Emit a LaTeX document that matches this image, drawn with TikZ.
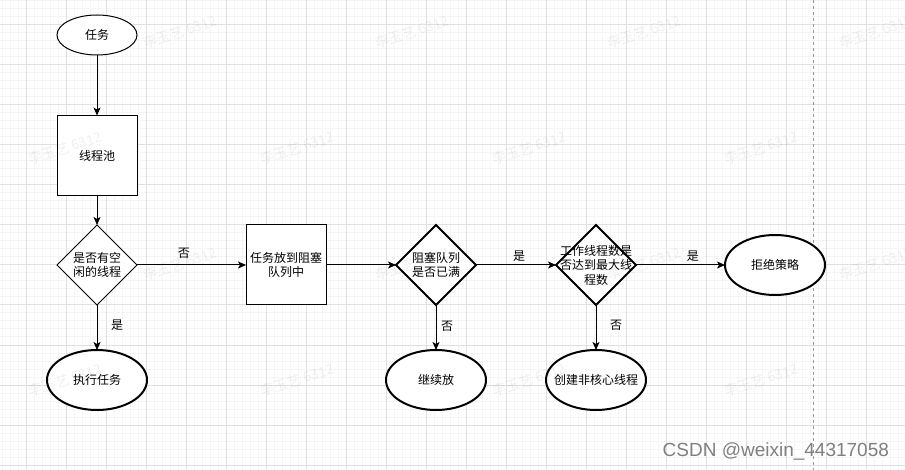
\documentclass[tikz,border=0pt]{standalone}
\usepackage{fontspec}
\newfontfamily\cjk{Noto Sans CJK SC}
\newfontfamily\csdnfont{Liberation Sans}
\usetikzlibrary{shapes.geometric,arrows.meta}
\begin{document}
\begin{tikzpicture}[x=1pt,y=-1pt,
  every node/.style={inner sep=0pt, outer sep=0pt},
  cjktext/.style={font=\cjk\fontsize{12}{14.5}\selectfont, align=center},
  thinline/.style={draw=black, line width=1pt, fill=white},
  thickline/.style={draw=black, line width=2pt, fill=white},
  boxshape/.style={rectangle, minimum width=80pt, minimum height=80pt},
  ovalsmall/.style={ellipse, minimum width=80pt, minimum height=40pt},
  ovalbig/.style={ellipse, minimum width=100pt, minimum height=60pt},
  diashape/.style={diamond, minimum width=80pt, minimum height=80pt},
  flow/.style={draw=black, line width=1pt, -{Stealth[length=8pt,width=7pt,inset=2pt]}},
  lbl/.style={cjktext},
  majorgrid/.style={draw=black!12, line width=1pt},
  minorgrid/.style={draw=black!4, line width=1pt},
  wm/.style={font=\cjk\fontsize{14}{14}\selectfont, text=black, text opacity=0.06, rotate=18}
]
\useasboundingbox (0,0) rectangle (905,470);
\fill[white] (0,0) rectangle (905,470);
% grid
\foreach \k in {0,...,112} \draw[minorgrid] ({2.7+8*\k},0) -- ({2.7+8*\k},470);
\foreach \k in {0,...,58} \draw[minorgrid] (0,{1+8*\k}) -- (905,{1+8*\k});
\foreach \k in {0,...,21} \draw[majorgrid] ({26.7+40*\k},0) -- ({26.7+40*\k},470);
\foreach \k in {0,...,11} \draw[majorgrid] (0,{25+40*\k}) -- (905,{25+40*\k});
% page break line
\draw[black!40, line width=1pt, dash pattern=on 3pt off 3pt] (813.3,0) -- (813.3,470);
% shapes
\node[ovalsmall, thinline, label={[cjktext]center:任务}] (task) at (97,35) {};
\node[boxshape, thinline, label={[cjktext]center:线程池}] (pool) at (97,155.5) {};
\node[diashape, thinline, label={[cjktext]center:{是否有空\\闲的线程}}] (idle) at (97,265) {};
\node[ovalbig, thickline, label={[cjktext]center:执行任务}] (run) at (97,380) {};
\node[boxshape, thinline, label={[cjktext]center:{任务放到阻塞\\队列中}}] (enqueue) at (286,265) {};
\node[diashape, thickline, label={[cjktext]center:{阻塞队列\\是否已满}}] (full) at (436,265) {};
\node[ovalbig, thickline, label={[cjktext]center:继续放}] (cont) at (436,380) {};
\node[diashape, thickline, label={[cjktext]center:{工作线程数是\\否达到最大线\\程数}}] (max) at (596,265) {};
\node[ovalbig, thickline, label={[cjktext]center:创建非核心线程}] (create) at (596,380) {};
\node[ovalbig, thickline, label={[cjktext]center:拒绝策略}] (reject) at (775,265) {};
% connectors
\draw[flow] (task) -- (pool);
\draw[flow] (pool) -- (idle);
\draw[flow] (idle) -- node[lbl, pos=0.45, xshift=20pt]{是} (run);
\draw[flow] (idle) -- node[lbl, pos=0.43, yshift=12pt]{否} (enqueue);
\draw[flow] (enqueue) -- (full);
\draw[flow] (full) -- node[lbl, pos=0.54, yshift=9pt]{是} (max);
\draw[flow] (full) -- node[lbl, pos=0.47, xshift=11pt]{否} (cont);
\draw[flow] (max) -- node[lbl, pos=0.64, yshift=9pt]{是} (reject);
\draw[flow] (max) -- node[lbl, pos=0.44, xshift=20pt]{否} (create);
% watermarks
\foreach \x in {180,412,644,876} {
  \node[wm] (wma\x) at (\x,32) {李玉艺 6312};
  \node[wm] (wmc\x) at (\x,264) {李玉艺 6312};
}
\foreach \x in {65,297,529,761} {
  \node[wm] (wmb\x) at (\x,148) {李玉艺 6312};
  \node[wm] (wmd\x) at (\x,380) {李玉艺 6312};
}
\node[font=\csdnfont\fontsize{19}{19}\selectfont, text=black!50, anchor=base east] (csdn) at (889,456.7) {CSDN @weixin\_44317058};
\end{tikzpicture}
\end{document}
